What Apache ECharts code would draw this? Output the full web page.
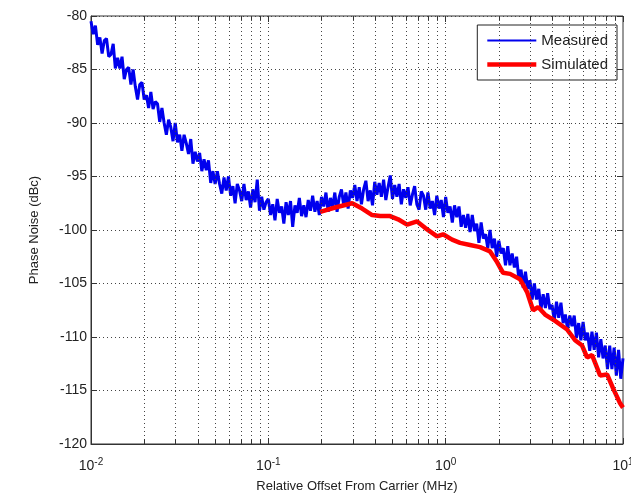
<!DOCTYPE html>
<html>
<head>
<meta charset="utf-8">
<script src="https://cdn.jsdelivr.net/npm/echarts@6/dist/echarts.min.js"></script>
<style>
  html, body { margin: 0; padding: 0; background: #fff; }
  #chart { width: 631px; height: 495px; }
</style>
</head>
<body>
<div id="chart"></div>
<script>
// sampling grid of the measured trace: mantissas within each decade
const mantissas = [1.000, 1.029, 1.059, 1.090, 1.122, 1.155, 1.189, 1.223, 1.259, 1.296,
  1.334, 1.372, 1.413, 1.454, 1.496, 1.540, 1.585, 1.631, 1.679, 1.728,
  1.778, 1.830, 1.884, 1.939, 1.995, 2.054, 2.113, 2.175, 2.239, 2.304,
  2.371, 2.441, 2.512, 2.585, 2.661, 2.738, 2.818, 2.901, 2.985, 3.073,
  3.162, 3.255, 3.350, 3.447, 3.548, 3.652, 3.758, 3.868, 3.981, 4.097,
  4.217, 4.340, 4.467, 4.597, 4.732, 4.870, 5.012, 5.158, 5.309, 5.464,
  5.623, 5.788, 5.957, 6.131, 6.310, 6.494, 6.683, 6.879, 7.079, 7.286,
  7.499, 7.718, 7.943, 8.175, 8.414, 8.660, 8.913, 9.173, 9.441, 9.716];
const decades = [0.01, 0.1, 1];

// measured phase noise (dBc), one value per sample of the grid above, plus 10 MHz
const measured = [
  -80.5, -81.7, -80.9, -82.7, -82.0, -83.5, -82.3, -82.1, -83.8, -83.6,
  -82.6, -84.9, -83.9, -84.9, -83.8, -85.9, -85.0, -84.8, -86.4, -85.0,
  -86.6, -87.8, -86.4, -86.2, -87.8, -87.4, -88.6, -87.1, -88.7, -88.0,
  -88.2, -89.9, -88.6, -90.0, -91.1, -89.7, -90.4, -91.7, -90.0, -91.8,
  -91.1, -92.6, -91.1, -91.9, -92.9, -91.5, -93.8, -92.7, -93.6, -92.8,
  -94.5, -93.4, -94.4, -93.5, -95.6, -94.5, -95.7, -94.5, -95.7, -96.6,
  -95.1, -96.3, -95.0, -96.8, -95.9, -97.5, -95.7, -96.3, -97.3, -95.7,
  -97.2, -96.4, -97.9, -96.2, -97.4, -95.3, -98.2, -96.9, -98.1, -97.4,
  -97.1, -98.6, -97.6, -99.1, -97.1, -98.4, -97.8, -99.4, -97.4, -98.6,
  -97.3, -99.7, -97.7, -98.4, -97.0, -98.7, -97.7, -98.8, -97.2, -98.2,
  -96.8, -98.3, -97.3, -98.6, -96.9, -97.8, -96.5, -98.3, -97.0, -97.9,
  -96.5, -98.3, -96.9, -96.2, -97.7, -96.5, -98.0, -96.3, -97.0, -95.8,
  -97.3, -96.0, -97.6, -96.2, -95.4, -97.3, -96.3, -97.7, -95.5, -96.7,
  -95.6, -96.9, -95.3, -97.2, -96.0, -94.9, -97.1, -95.8, -96.9, -95.7,
  -97.6, -96.2, -97.0, -96.0, -97.7, -96.7, -95.9, -97.6, -98.1, -96.4,
  -96.8, -98.1, -96.5, -98.0, -97.3, -98.6, -96.8, -98.0, -97.2, -98.8,
  -96.9, -98.4, -97.8, -99.3, -97.7, -98.8, -97.8, -99.7, -98.6, -99.8,
  -98.5, -100.2, -98.6, -100.1, -99.4, -101.2, -99.3, -100.8, -100.4, -101.7,
  -100.0, -101.7, -100.8, -102.5, -101.0, -102.2, -101.7, -103.3, -101.5, -103.3,
  -102.2, -103.5, -102.5, -104.6, -103.7, -105.4, -103.9, -105.5, -104.7, -106.5,
  -105.0, -106.5, -105.5, -107.4, -106.0, -107.3, -105.9, -107.4, -107.0, -108.5,
  -106.7, -108.2, -106.8, -108.7, -107.9, -109.3, -108.0, -109.0, -108.0, -110.1,
  -108.7, -110.3, -108.6, -110.3, -109.6, -111.3, -109.5, -111.2, -109.6, -111.9,
  -110.2, -112.0, -110.8, -113.0, -110.8, -113.0, -111.0, -113.6, -111.2, -113.9,
  -112.0
];

// simulated phase noise
const simFreq = [0.196, 0.238, 0.297, 0.338, 0.385, 0.427, 0.486, 0.539, 0.606, 0.690,
  0.765, 0.894, 0.967, 1.087, 1.206, 1.373, 1.563, 1.780, 1.949, 2.107,
  2.307, 2.628, 2.879, 3.111, 3.320, 3.636, 4.140, 4.838, 5.366, 5.880,
  6.274, 6.695, 7.428, 8.134, 8.794, 9.630, 10];
const simulated = [-98.3, -97.9, -97.5, -98.0, -98.6, -98.7, -98.7, -99.0, -99.5, -99.2,
  -99.8, -100.6, -100.4, -100.9, -101.2, -101.4, -101.6, -102.0, -103.0, -104.0,
  -104.1, -104.6, -105.8, -107.5, -107.2, -107.9, -108.5, -109.3, -110.3, -110.8,
  -111.9, -111.7, -113.6, -113.5, -114.8, -116.2, -116.6];

// log grid lines / ticks
const gridMult = [1, 2, 3, 4, 5, 6, 7, 8, 9];
const yMin = -120, yMax = -80;

const measFreq = decades.flatMap(d => mantissas.map(m => +(d * m).toPrecision(4))).concat([10]);
const measData = measFreq.map((f, i) => [f, measured[i]]);
const simData = simFreq.map((f, i) => [f, simulated[i]]);

const gridFreqs = decades.flatMap(d => gridMult.map(m => +(d * m).toPrecision(3))).filter(f => f > 0.01);
const vLines = gridFreqs.map(f => [{ coord: [f, yMin] }, { coord: [f, yMax] }]);
const minorTicks = gridFreqs.flatMap(f => [
  [{ coord: [f, yMin] }, { coord: [f, yMin + 0.45] }],
  [{ coord: [f, yMax] }, { coord: [f, yMax - 0.45] }]
]);

const font = 'Liberation Sans';
const chart = echarts.init(document.getElementById('chart'));
chart.setOption({
  animation: false,
  backgroundColor: '#fff',
  textStyle: { fontFamily: font },
  grid: {
    left: 91, top: 16, right: 8, bottom: 51,
    containLabel: false, outerBoundsMode: 'none',
    show: true, borderColor: '#333', borderWidth: 1
  },
  legend: {
    data: [
      { name: 'Measured', icon: 'path://M0,0L49,0L49,2.2L0,2.2Z' },
      { name: 'Simulated', icon: 'path://M0,0L49,0L49,4.5L0,4.5Z' }
    ],
    orient: 'vertical',
    right: 14,
    top: 25,
    itemWidth: 49,
    itemHeight: 14,
    itemGap: 9,
    padding: [8, 9, 8, 10],
    backgroundColor: '#fff',
    borderColor: '#222',
    borderWidth: 1,
    borderRadius: 0,
    textStyle: { fontFamily: font, fontSize: 15, color: '#222' }
  },
  xAxis: [{
    type: 'log',
    logBase: 10,
    min: 0.01,
    max: 10,
    name: 'Relative Offset From Carrier (MHz)',
    nameLocation: 'middle',
    nameGap: 36,
    nameTextStyle: { fontFamily: font, fontSize: 13, color: '#222' },
    axisLine: { show: true, lineStyle: { color: '#333' } },
    axisTick: { inside: true, length: 6, lineStyle: { color: '#333' } },
    splitLine: { show: false },
    axisLabel: {
      margin: 13,
      formatter: v => '{b|10}{s|' + Math.round(Math.log10(v)) + '}',
      rich: {
        b: { fontFamily: font, fontSize: 14, color: '#222' },
        s: { fontFamily: font, fontSize: 10, color: '#222', verticalAlign: 'top', padding: [0, 0, 8, 0] }
      }
    }
  }, {
    type: 'log', logBase: 10, min: 0.01, max: 10, position: 'top',
    axisLine: { show: false },
    axisTick: { inside: true, length: 6, lineStyle: { color: '#333' } },
    axisLabel: { show: false }, splitLine: { show: false }
  }],
  yAxis: [{
    type: 'value',
    min: yMin,
    max: yMax,
    interval: 5,
    name: 'Phase Noise (dBc)',
    nameLocation: 'middle',
    nameGap: 50,
    nameRotate: 90,
    nameTextStyle: { fontFamily: font, fontSize: 13, color: '#222' },
    axisLine: { show: true, lineStyle: { color: '#333' } },
    axisTick: { show: true, inside: true, length: 6, lineStyle: { color: '#333' } },
    axisLabel: { fontFamily: font, fontSize: 14, color: '#222', margin: 4 },
    splitLine: { show: true, lineStyle: { color: '#444', type: [1, 3], width: 1 } }
  }, {
    type: 'value', min: yMin, max: yMax, interval: 5, position: 'right',
    axisLine: { show: false },
    axisTick: { show: true, inside: true, length: 6, lineStyle: { color: '#333' } },
    axisLabel: { show: false }, splitLine: { show: false }
  }],
  series: [{
    name: 'grid',
    type: 'line',
    data: [],
    z: 1,
    silent: true,
    markLine: {
      silent: true,
      symbol: 'none',
      animation: false,
      label: { show: false },
      lineStyle: { color: '#444', type: [1, 3], width: 1 },
      data: vLines
    }
  }, {
    name: 'ticks',
    type: 'line',
    data: [],
    z: 1,
    silent: true,
    markLine: {
      silent: true,
      symbol: 'none',
      animation: false,
      label: { show: false },
      lineStyle: { color: '#333', type: 'solid', width: 1 },
      data: minorTicks
    }
  }, {
    name: 'Measured',
    type: 'line',
    data: measData,
    symbol: 'none',
    z: 3,
    color: '#0000ee',
    lineStyle: { color: '#0000ee', width: 3 }
  }, {
    name: 'Simulated',
    type: 'line',
    data: simData,
    symbol: 'none',
    z: 4,
    color: '#ff0000',
    lineStyle: { color: '#ff0000', width: 4.5 }
  }]
});
</script>
</body>
</html>
